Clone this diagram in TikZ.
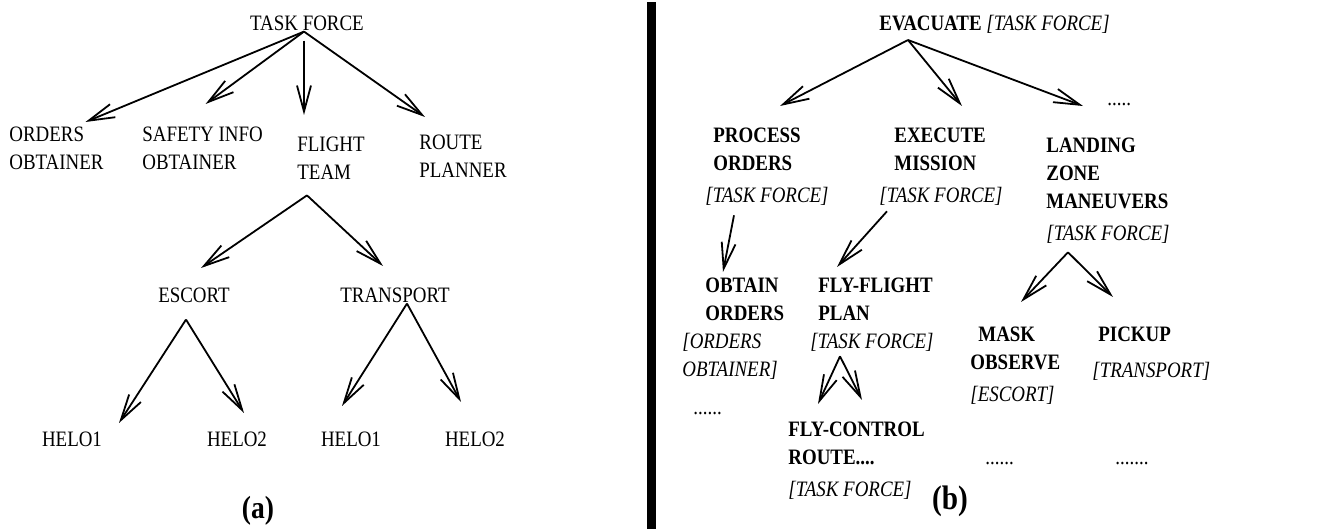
\documentclass[tikz,border=0pt]{standalone}
\usepackage{fontspec}
\setmainfont{Liberation Serif}[FakeStretch=0.86]
\usetikzlibrary{arrows.meta,calc}

\begin{document}
\begin{tikzpicture}[x=0.5pt,y=-0.5pt,>={Straight Barb[length=13pt,width=7pt]},
  font=\fontsize{11pt}{14pt}\selectfont]
  \tikzset{unit/.style={inner sep=0pt,align=left,anchor=north west},
    link/.style={->,line width=0.9pt},
    tag/.style={font=\fontsize{#1}{#1}\selectfont\bfseries,inner sep=0pt}}
  \useasboundingbox (0,0) rectangle (1340,529);

  % (a) team structure
  \node[unit,anchor=north] (tf) at (307,16) {TASK FORCE};
  \node[unit] (oo) at (9,127) {ORDERS\\OBTAINER};
  \node[unit] (si) at (142,127) {SAFETY INFO\\OBTAINER};
  \node[unit] (ft) at (297,137) {FLIGHT\\TEAM};
  \node[unit] (rp) at (419,135) {ROUTE\\PLANNER};
  \node[unit,anchor=north] (es) at (194,288) {ESCORT};
  \node[unit,anchor=north] (tr) at (395,288) {TRANSPORT};
  \node[unit,anchor=north] (h1) at (72,432) {HELO1};
  \node[unit,anchor=north] (h2) at (237,432) {HELO2};
  \node[unit,anchor=north] (h3) at (351,432) {HELO1};
  \node[unit,anchor=north] (h4) at (475,432) {HELO2};
  \node[tag=16pt] (la) at (258,511) {(a)};

  \draw[link] ($(tf.south)+(-3,0)$) -- ($(oo.north)+(29,-5)$);
  \draw[link] ($(tf.south)+(-3,0)$) -- ($(si.north)+(3,-23)$);
  \draw[link] ($(tf.south)+(-3,9)$) -- ($(ft.north west)+(7,-22)$);
  \draw[link] ($(tf.south)+(-3,0)$) -- ($(rp.north west)+(6,-18)$);
  \draw[link] ($(ft.south west)+(10,15)$) -- ($(es.north)+(7,-20)$);
  \draw[link] ($(ft.south west)+(10,15)$) -- ($(tr.north)+(-12,-22)$);
  \draw[link] ($(es.south)+(-8,16)$) -- ($(h1.north)+(47,-9)$);
  \draw[link] ($(es.south)+(-8,16)$) -- ($(h2.north)+(7,-19)$);
  \draw[link] ($(tr.south)+(12,0)$) -- ($(h3.north)+(-9,-26)$);
  \draw[link] ($(tr.south)+(12,0)$) -- ($(h4.north)+(-14,-30)$);

  % separator
  \fill (647,2) rectangle (656,529);

  % (b) task decomposition
  \node[unit] (ev) at (879,15) {\textbf{EVACUATE} \textit{[TASK FORCE]}};
  \node[unit] (po) at (705,128) {\hspace*{4pt}\textbf{PROCESS}\\\hspace*{4pt}\textbf{ORDERS}\\[2pt]\textit{[TASK FORCE]}};
  \node[unit] (em) at (879,128) {\hspace*{7.5pt}\textbf{EXECUTE}\\\hspace*{7.5pt}\textbf{MISSION}\\[2pt]\textit{[TASK FORCE]}};
  \node[unit] (lz) at (1046,138) {\textbf{LANDING}\\\textbf{ZONE}\\\textbf{MANEUVERS}\\[2pt]\textit{[TASK FORCE]}};
  \node[unit,anchor=base west] (d1) at (1107,106) {.....};
  \node[unit] (ob) at (682,278) {\hspace*{11.5pt}\textbf{OBTAIN}\\\hspace*{11.5pt}\textbf{ORDERS}\\\textit{[ORDERS}\\\textit{OBTAINER]}};
  \node[unit,anchor=base west] (d2) at (693,415) {......};
  \node[unit] (ff) at (810,278) {\hspace*{4pt}\textbf{FLY-FLIGHT}\\\hspace*{4pt}\textbf{PLAN}\\\textit{[TASK FORCE]}};
  \node[unit] (fc) at (788,422) {\textbf{FLY-CONTROL}\\\textbf{ROUTE....}\\[2pt]\textit{[TASK FORCE]}};
  \node[unit] (mo) at (970,327) {\hspace*{4pt}\textbf{MASK}\\\textbf{OBSERVE}\\[2pt]\textit{[ESCORT]}};
  \node[unit] (pu) at (1092,327) {\hspace*{3pt}\textbf{PICKUP}\\[4pt]\textit{[TRANSPORT]}};
  \node[unit,anchor=base west] (d3) at (985,465) {......};
  \node[unit,anchor=base west] (d4) at (1115,465) {.......};
  \node[tag=17pt] (lb) at (950,501) {(b)};

  \draw[link] ($(ev.south west)+(29,6)$) -- ($(po.north west)+(75,-22)$);
  \draw[link] ($(ev.south west)+(29,6)$) -- ($(em.north west)+(83,-22)$);
  \draw[link] ($(ev.south west)+(29,6)$) -- ($(d1.west)+(-24,1)$);
  \draw[link] ($(po.south west)+(29,9)$) -- ($(ob.north west)+(41,-6)$);
  \draw[link] ($(em.south west)+(8,5)$) -- ($(ff.north west)+(27,-11)$);
  \draw[link] ($(lz.south west)+(22,8)$) -- ($(mo.north west)+(51,-25)$);
  \draw[link] ($(lz.south west)+(22,8)$) -- ($(pu.north west)+(21,-30)$);
  \draw[link] ($(ff.south west)+(30,4)$) -- ($(fc.north west)+(30,-18)$);
  \draw[link] ($(ff.south west)+(30,4)$) -- ($(fc.north west)+(74,-22)$);
\end{tikzpicture}
\end{document}
